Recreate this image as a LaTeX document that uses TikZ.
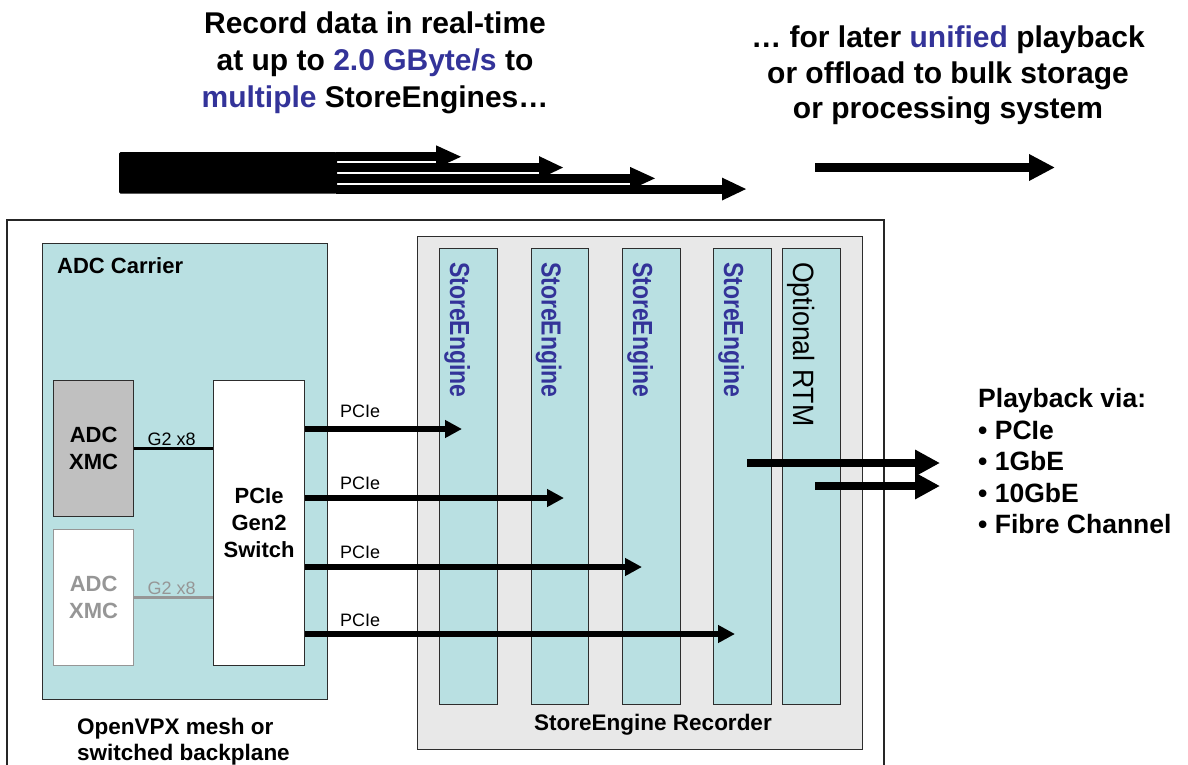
\documentclass[tikz,border=0pt]{standalone}
\usepackage{fontspec}
\setmainfont{Liberation Sans}
\usetikzlibrary{arrows.meta}
\definecolor{tealfill}{RGB}{185,224,226}
\definecolor{recgray}{RGB}{232,232,232}
\definecolor{xmcgray}{RGB}{192,192,192}
\definecolor{dimgray}{RGB}{150,150,150}
\definecolor{hlblue}{RGB}{51,51,153}
\definecolor{edge}{RGB}{45,45,45}
\begin{document}
\begin{tikzpicture}[x=1pt,y=-1pt,
  box/.style={draw=edge, line width=1.2pt, inner sep=0pt, anchor=north west},
  bftext/.style={font=\bfseries\fontsize{22}{27}\selectfont, align=center},
  lbl/.style={font=\fontsize{18}{20}\selectfont, inner sep=0pt, anchor=west},
  pciearrow/.style={line width=5.3pt, -{Triangle[length=17pt,width=17pt]}},
  bigarrow/.style={line width=8.6pt, -{Triangle[length=25pt,width=25pt]}},
  vtext/.style={rotate=-90, anchor=base west, inner sep=0pt},
  setext/.style={vtext, text=hlblue, font=\bfseries\fontsize{23}{23}\selectfont},
  column/.style={box, fill=tealfill, minimum width=57.5pt, minimum height=456pt},
]
\useasboundingbox (0,0) rectangle (1188,765);

% headline texts
\node[align=center, inner sep=0pt, font=\bfseries\fontsize{30}{37}\selectfont] (headL) at (375,63)
  {Record data in real-time\\at up to \textcolor{hlblue}{2.0 GByte/s} to\\\textcolor{hlblue}{multiple} StoreEngines…};
\node[align=center, inner sep=0pt, font=\bfseries\fontsize{30}{35.5}\selectfont] (headR) at (948,75.5)
  {… for later \textcolor{hlblue}{unified} playback\\or offload to bulk storage\\or processing system};

% top bundle of arrows (drawn as filled shapes)
\fill[rounded corners=1.5pt] (119,152.1) rectangle (337,193.6);
\fill (336,152.1) rectangle (437,161.4);
\fill (436,145.3) -- (461,156.75) -- (436,168.2) -- cycle;
\fill (336,162.9) rectangle (540,172.2);
\fill (539,156.1) -- (563,167.55) -- (539,179) -- cycle;
\fill (336,173.7) rectangle (631,183);
\fill (630,166.9) -- (655,178.35) -- (630,189.8) -- cycle;
\fill (336,184.5) rectangle (723,193.6);
\fill (722,177.6) -- (746,189.05) -- (722,200.5) -- cycle;
\coordinate (u1s) at (815,167.5); \coordinate (u1e) at (1055,167.5);
\draw[line width=9.6pt, -{Triangle[length=26pt,width=25pt]}] (u1s) -- (u1e);

% outer frame
\draw[draw=black!85, line width=1.3pt] (7,766) |- (884,220) -- (884,766);

% ADC carrier
\node[box, fill=tealfill, minimum width=285pt, minimum height=456pt] (carrier) at (42,243) {};
\node[inner sep=0pt, anchor=west, font=\bfseries\fontsize{22}{26}\selectfont] (carrierlbl) at (57,266) {ADC Carrier};
\node[box, fill=xmcgray, minimum width=80pt, minimum height=136pt, bftext] (xmc1) at (53,380) {ADC\\XMC};
\node[box, draw=dimgray, fill=white, minimum width=80pt, minimum height=136pt, bftext, text=dimgray] (xmc2) at (53,529) {ADC\\XMC};
\node[box, fill=white, minimum width=91pt, minimum height=285pt, bftext] (switch) at (213,380) {PCIe\\Gen2\\Switch};
\draw[line width=2.8pt, draw=black] (xmc1.east) -- node[above=2pt, xshift=-2pt, font=\fontsize{18}{20}\selectfont, inner sep=0pt] {G2 x8} (xmc1.east -| switch.west);
\draw[line width=2.8pt, draw=dimgray] (xmc2.east) -- node[above=2pt, xshift=-2pt, font=\fontsize{18}{20}\selectfont, inner sep=0pt, text=dimgray] {G2 x8} (xmc2.east -| switch.west);
\node[inner sep=0pt, anchor=north west, align=left, font=\bfseries\fontsize{22.5}{26}\selectfont] (vpx) at (77,717.5) {OpenVPX mesh or\\switched backplane};

% recorder
\node[box, fill=recgray, minimum width=445pt, minimum height=513pt] (rec) at (417,236) {};
\node[inner sep=0pt, font=\bfseries\fontsize{22.5}{26}\selectfont] (reclbl) at (653,725) {StoreEngine Recorder};
\node[column] (se1) at (439,248) {};
\node[column] (se2) at (530.5,248) {};
\node[column] (se3) at (622,248) {};
\node[column] (se4) at (713,248) {};
\node[column] (rtm) at (782,248) {};
\node[setext] (se1t) at (450,262) {\scalebox{1}[1.2]{StoreEngine}};
\node[setext] (se2t) at (541.5,262) {\scalebox{1}[1.2]{StoreEngine}};
\node[setext] (se3t) at (633,262) {\scalebox{1}[1.2]{StoreEngine}};
\node[setext] (se4t) at (724,262) {\scalebox{1}[1.2]{StoreEngine}};
\node[vtext, font=\fontsize{26.7}{27}\selectfont] (rtmt) at (793.5,262) {\scalebox{1}[1.1]{Optional RTM}};

% PCIe links
\coordinate (p1) at (462,429);
\coordinate (p2) at (564,498);
\coordinate (p3) at (642,567);
\coordinate (p4) at (735,634);
\draw[pciearrow] (p1 -| switch.east) -- (p1);
\draw[pciearrow] (p2 -| switch.east) -- (p2);
\draw[pciearrow] (p3 -| switch.east) -- (p3);
\draw[pciearrow] (p4 -| switch.east) -- (p4);
\node[lbl] (l1) at (340,411) {PCIe};
\node[lbl] (l2) at (340,483) {PCIe};
\node[lbl] (l3) at (340,552) {PCIe};
\node[lbl] (l4) at (340,620) {PCIe};

% playback
\coordinate (b1s) at (747,463); \coordinate (b1e) at (940,463);
\coordinate (b2s) at (815,486); \coordinate (b2e) at (940,486);
\draw[bigarrow] (b1s) -- (b1e);
\draw[bigarrow] (b2s) -- (b2e);
\node[inner sep=0pt, anchor=north west, align=left, font=\bfseries\fontsize{26.5}{31.5}\selectfont] (pb) at (978,388.5)
  {Playback via:\\• PCIe\\• 1GbE\\• 10GbE\\• Fibre Channel};
\end{tikzpicture}
\end{document}
